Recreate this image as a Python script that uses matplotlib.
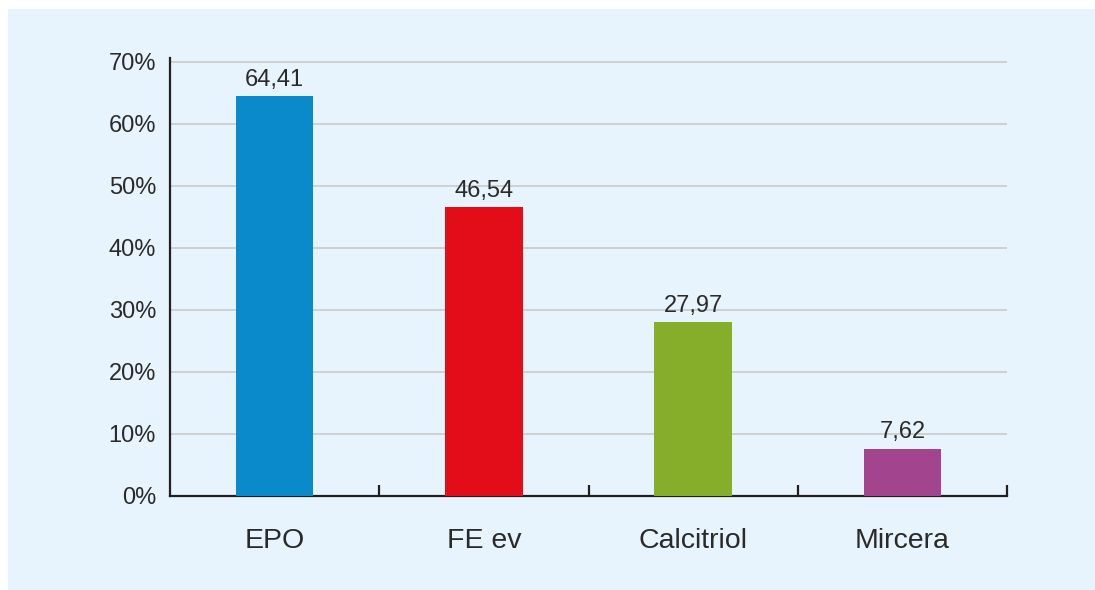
import matplotlib
matplotlib.use('Agg')
import matplotlib.pyplot as plt
from matplotlib.patches import Rectangle

# data
categories = ['EPO', 'FE ev', 'Calcitriol', 'Mircera']
values = [64.41, 46.54, 27.97, 7.62]
value_labels = ['64,41', '46,54', '27,97', '7,62']
bar_colors = ['#0b8acb', '#e20d18', '#87ae2a', '#a3448e']
yticks = [0, 10, 20, 30, 40, 50, 60, 70]

plt.rcParams['font.family'] = ['Liberation Sans', 'DejaVu Sans']
txt = '#2a2a2a'

fig = plt.figure(figsize=(10.95, 5.9), dpi=100, facecolor='white')
# light blue panel behind the chart
fig.patches.append(Rectangle((8 / 1095, 0.5 / 590), 1, 581 / 590,
                             transform=fig.transFigure, facecolor='#e8f4fd',
                             edgecolor='none', zorder=-10))

ax = fig.add_axes([170 / 1095, 94 / 590, 837 / 1095, 438 / 590])
ax.set_facecolor('none')

x = range(len(categories))
ax.bar(x, values, width=0.37, color=bar_colors, zorder=3)
for xi, v, lab in zip(x, values, value_labels):
    ax.text(xi, v + 0.9, lab, ha='center', va='bottom', fontsize=17, color=txt, zorder=4)

ax.set_xlim(-0.5, 3.5)
ax.set_ylim(0, 70.6)
ax.set_yticks(yticks)
ax.set_yticklabels([f'{t}%' for t in yticks], fontsize=17, color=txt)
ax.yaxis.grid(True, color='#c9c9c9', linewidth=1.2, zorder=1)
ax.set_axisbelow(True)

ax.set_xticks(list(x))
ax.set_xticklabels(categories, fontsize=20.5, color=txt)
ax.set_xticks([0.5, 1.5, 2.5, 3.5], minor=True)
ax.tick_params(axis='x', which='major', length=0, pad=23)
ax.tick_params(axis='x', which='minor', direction='in', length=8, width=1.6, color='#231f20')
ax.tick_params(axis='y', length=0, pad=10)

for s in ['top', 'right']:
    ax.spines[s].set_visible(False)
for s in ['left', 'bottom']:
    ax.spines[s].set_color('#231f20')
    ax.spines[s].set_linewidth(1.6)

plt.savefig('out.png', dpi=100, facecolor=fig.get_facecolor())
